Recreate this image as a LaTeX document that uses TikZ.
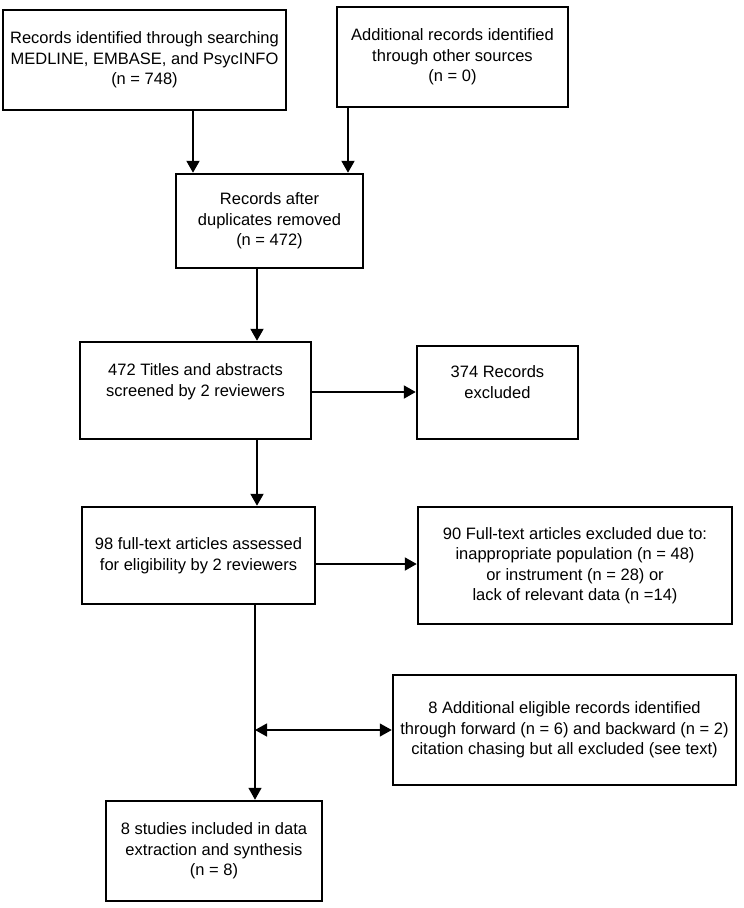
\documentclass[tikz,border=0pt]{standalone}
\usepackage{fontspec}
\setmainfont{Liberation Sans}
\usetikzlibrary{arrows.meta}
\tikzset{
  box/.style={draw=black, line width=2.5pt, rectangle, inner sep=0pt, align=center,
    font=\fontsize{16.5}{20.5}\selectfont},
  arr/.style={draw=black, line width=2pt, -{Triangle[width=13pt,length=12pt]}},
  thinarr/.style={draw=black, line width=1.3pt, -{Triangle[width=13pt,length=12pt]}},
  dblarr/.style={draw=black, line width=1.3pt, {Triangle[width=13pt,length=12pt]}-{Triangle[width=13pt,length=12pt]}},
}
\begin{document}
\begin{tikzpicture}[x=1pt,y=-1pt]
\fill[white] (0,0) rectangle (744,908);
\useasboundingbox (0,0) rectangle (744,908);

\node[box, minimum width=283pt, minimum height=100pt] (A) at (144.5,60)
  {Records identified through searching\\MEDLINE, EMBASE, and PsycINFO\\(n = 748)};
\node[box, minimum width=231pt, minimum height=100pt] (B) at (452.5,57)
  {Additional records identified\\through other sources\\(n = 0)};
\node[box, minimum width=187pt, minimum height=94pt] (C) at (269.5,221)
  {Records after\\duplicates removed\\(n = 472)};
\node[box, minimum width=231pt, minimum height=97pt] (D) at (195.5,390.5)
  {472 Titles and abstracts\\screened by 2 reviewers\\\mbox{}};
\node[box, minimum width=161pt, minimum height=93pt] (E) at (497.5,392.5)
  {374 Records\\excluded\\\mbox{}};
\node[box, minimum width=233pt, minimum height=97pt] (F) at (198.5,555.5)
  {98 full-text articles assessed\\for eligibility by 2 reviewers};
\node[box, minimum width=314pt, minimum height=117pt] (G) at (575,565.5)
  {90 Full-text articles excluded due to:\\inappropriate population (n = 48)\\or instrument (n = 28) or\\lack of relevant data (n =14)};
\node[box, minimum width=343pt, minimum height=110pt] (H) at (564.5,730)
  {8 Additional eligible records identified\\through forward (n = 6) and backward (n = 2)\\citation chasing but all excluded (see text)};
\node[box, minimum width=216pt, minimum height=100pt] (I) at (214,851)
  {8 studies included in data\\extraction and synthesis\\(n = 8)};

\coordinate (xa) at (193,0);
\coordinate (xb) at (348,0);
\coordinate (xc) at (257,0);
\coordinate (xf) at (255,0);
\coordinate (yd) at (0,392);
\coordinate (yf) at (0,564);
\coordinate (jn) at (255,730);

\draw[arr] (A.south -| xa) -- (C.north -| xa);
\draw[arr] (B.south -| xb) -- (C.north -| xb);
\draw[arr] (C.south -| xc) -- (D.north -| xc);
\draw[arr] (D.east |- yd) -- (E.west |- yd);
\draw[arr] (D.south -| xc) -- (F.north -| xc);
\draw[arr] (F.east |- yf) -- (G.west |- yf);
\draw[thinarr] (F.south -| xf) -- (I.north -| xf);
\draw[dblarr] (jn) -- (H.west |- jn);
\end{tikzpicture}
\end{document}
